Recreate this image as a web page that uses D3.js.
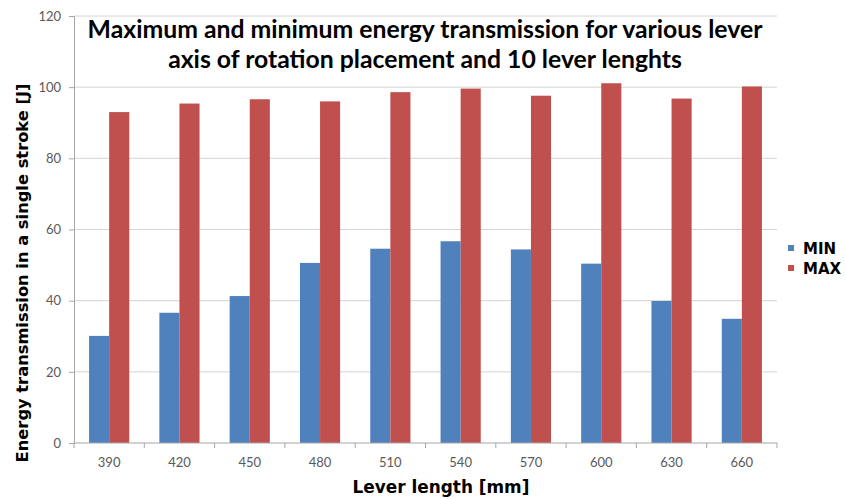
<!DOCTYPE html>
<html>
<head>
<meta charset="utf-8">
<script src="https://cdn.jsdelivr.net/npm/d3@7"></script>
<style>
  html, body { margin: 0; padding: 0; background: #fff; }
  svg { display: block; }
</style>
</head>
<body>
<div id="chart"></div>
<script>
// Lever lengths in mm and energy transmitted per stroke (J)
const categories = ["390", "420", "450", "480", "510", "540", "570", "600", "630", "660"];
const minValues = [30.1, 36.6, 41.3, 50.6, 54.6, 56.7, 54.4, 50.4, 39.9, 34.9];
const maxValues = [93.0, 95.4, 96.6, 96.0, 98.6, 99.6, 97.6, 101.1, 96.8, 100.2];
const seriesNames = ["MIN", "MAX"];
const seriesColors = ["#4f81bd", "#c0504d"];
const yTicks = [0, 20, 40, 60, 80, 100, 120];

const W = 846, H = 499;
const margin = { left: 74, right: 69, top: 16, bottom: 56 };
const plotW = W - margin.left - margin.right;
const plotH = H - margin.top - margin.bottom;

const bodyFont = "Lato, 'Open Sans', sans-serif";
const labelFont = "'DejaVu Sans', Verdana, sans-serif";

const svg = d3.select("#chart").append("svg")
  .attr("width", W).attr("height", H)
  .style("font-family", bodyFont);

// Scale a text element's font size so that it spans the given width
function fitWidth(sel, target, base) {
  const len = sel.node().getComputedTextLength();
  sel.style("font-size", (base * target / len).toFixed(2) + "px");
}

const g = svg.append("g").attr("transform", `translate(${margin.left},${margin.top})`);

const x = d3.scaleBand().domain(categories).range([0, plotW]).paddingInner(0).paddingOuter(0);
const y = d3.scaleLinear().domain([0, 120]).range([plotH, 0]);
// Two bars per category with a gap of 1.5 bar widths
const barW = x.bandwidth() / 3.5;
const xs = d3.scaleBand().domain(seriesNames).range([0.75 * barW, 2.75 * barW]);

// Horizontal gridlines
g.append("g").selectAll("line").data(yTicks.filter(t => t > 0)).join("line")
  .attr("x1", 0).attr("x2", plotW)
  .attr("y1", d => y(d)).attr("y2", d => y(d))
  .attr("stroke", "#d4d4d4").attr("stroke-width", 1);

// Bars
const rows = categories.map((c, i) => ({ c, vals: [minValues[i], maxValues[i]] }));
g.append("g").selectAll("g").data(rows).join("g")
  .attr("transform", d => `translate(${x(d.c)},0)`)
  .selectAll("rect").data(d => d.vals.map((v, k) => ({ k, v }))).join("rect")
  .attr("x", d => xs(seriesNames[d.k]))
  .attr("width", xs.bandwidth())
  .attr("y", d => y(d.v))
  .attr("height", d => y(0) - y(d.v))
  .attr("fill", d => seriesColors[d.k]);

// Y axis
const yAxis = g.append("g").call(
  d3.axisLeft(y).tickValues(yTicks).tickSize(5).tickPadding(8)
);
yAxis.select(".domain").attr("stroke", "#a6a6a6");
yAxis.selectAll(".tick line").attr("stroke", "#a6a6a6");
yAxis.selectAll("text").attr("fill", "#595959").style("font-size", "13px")
  .style("font-family", bodyFont);

// X axis with tick marks between categories
const xAxisG = g.append("g").attr("transform", `translate(0,${plotH})`);
xAxisG.append("line").attr("x1", 0).attr("x2", plotW).attr("stroke", "#a6a6a6");
xAxisG.selectAll("line.tk").data(d3.range(categories.length + 1)).join("line")
  .attr("class", "tk")
  .attr("x1", i => i * x.step()).attr("x2", i => i * x.step())
  .attr("y1", 0).attr("y2", 5).attr("stroke", "#a6a6a6");
xAxisG.selectAll("text").data(categories).join("text")
  .attr("x", d => x(d) + x.bandwidth() / 2)
  .attr("y", 24)
  .attr("text-anchor", "middle")
  .attr("fill", "#595959")
  .style("font-size", "13px")
  .text(d => d);

// Title
const title = svg.append("text")
  .attr("x", 425).attr("y", 38)
  .attr("text-anchor", "middle")
  .style("font-size", "20px").style("font-weight", "bold").attr("fill", "#000");
const t1 = title.append("tspan").attr("x", 425).attr("dy", 0)
  .text("Maximum and minimum energy transmission for various lever");
title.append("tspan").attr("x", 425).attr("y", 68)
  .text("axis of rotation placement and 10 lever lenghts");
{
  const len = t1.node().getComputedTextLength();
  title.style("font-size", (20 * 675 / len).toFixed(2) + "px");
}

// Axis titles
const xTitle = svg.append("text")
  .attr("x", 441).attr("y", 493)
  .attr("text-anchor", "middle")
  .style("font-family", labelFont)
  .style("font-size", "15px").style("font-weight", "bold")
  .text("Lever length [mm]");
fitWidth(xTitle, 177, 15);

const yTitle = svg.append("text")
  .attr("transform", "translate(28,273) rotate(-90)")
  .attr("text-anchor", "middle")
  .style("font-family", labelFont)
  .style("font-size", "15px").style("font-weight", "bold")
  .text("Energy transmission in a single stroke [J]");
fitWidth(yTitle, 379, 15);

// Legend
const legend = svg.append("g").attr("transform", "translate(788,245)");
seriesNames.forEach((name, i) => {
  const row = legend.append("g").attr("transform", `translate(0,${i * 20})`);
  row.append("rect").attr("width", 6).attr("height", 6).attr("fill", seriesColors[i]);
  row.append("text").attr("x", 15).attr("y", 8.5)
    .style("font-family", labelFont)
    .style("font-size", "15px").style("font-weight", "bold").text(name);
});
</script>
</body>
</html>
